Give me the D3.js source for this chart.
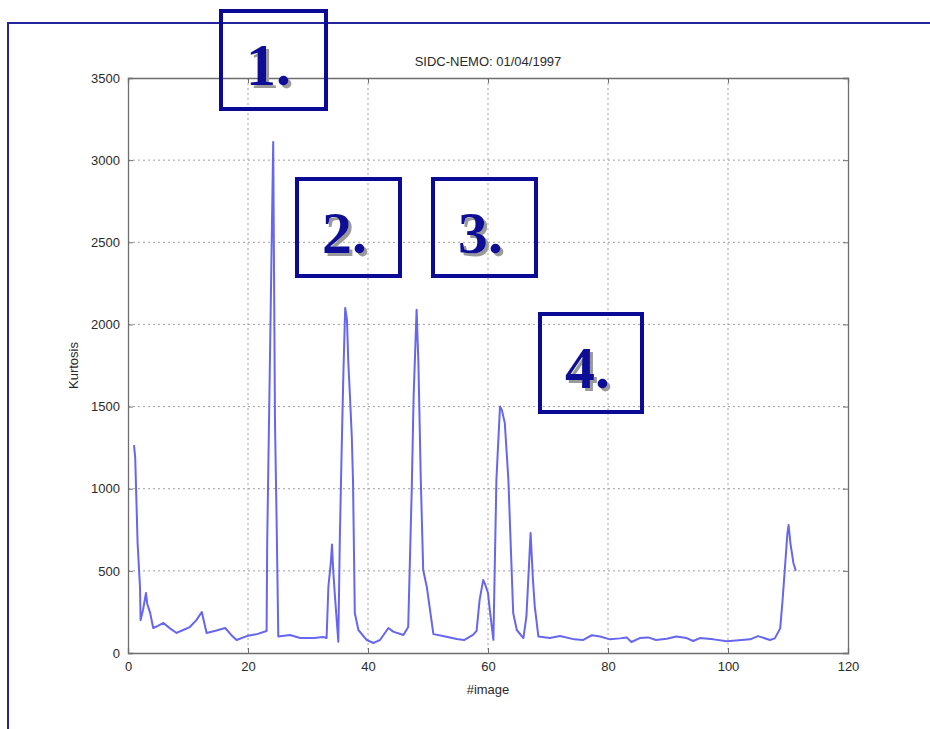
<!DOCTYPE html>
<html>
<head>
<meta charset="utf-8">
<script src="https://cdn.jsdelivr.net/npm/d3@7"></script>
<style>
  html, body { margin: 0; padding: 0; background: #fff; }
  svg { display: block; }
</style>
</head>
<body>
<svg id="chart" width="930" height="729"></svg>
<script>
// Kurtosis per image, SIDC-NEMO run of 01/04/1997
const imageIndex = [
  1.0, 1.2, 1.4, 1.6, 2.0, 2.1, 2.5, 3.0, 3.2, 3.7, 4.2, 5.0, 5.9, 7.0, 8.1, 9.2, 10.3, 11.4, 12.3, 13.1,
  14.6, 16.2, 17.2, 18.1, 19.8, 21.5, 23.1, 23.2, 24.2, 24.5, 24.8, 25.05, 27.0, 28.7, 31.0, 32.5, 33.1,
  33.4, 33.8, 34.0, 34.2, 34.5, 35.05, 35.3, 35.6, 35.9, 36.2, 36.5, 36.7, 37.0, 37.3, 37.5, 37.8, 38.4,
  39.8, 40.9, 41.4, 42.0, 43.4, 44.2, 45.9, 46.7, 47.3, 47.6, 48.1, 48.4, 48.8, 49.2, 49.8, 50.9, 52.5,
  54.8, 56.0, 57.5, 58.1, 58.6, 59.2, 59.5, 60.0, 60.3, 60.9, 61.4, 62.0, 62.3, 62.8, 63.4, 63.8, 64.2,
  64.8, 65.9, 66.4, 67.1, 67.5, 67.8, 68.4, 70.3, 72.0, 74.4, 75.8, 77.3, 78.7, 80.3, 82.0, 83.1, 83.9,
  85.3, 86.7, 88.0, 89.8, 91.4, 93.1, 94.2, 95.3, 97.6, 99.8, 101.8, 103.7, 105.0, 107.0, 107.8, 108.7,
  109.1, 109.5, 109.9, 110.1, 110.4, 110.9, 111.3
];
const kurtosis = [
  1265, 1190, 930, 670, 400, 200, 262, 365, 300, 243, 152, 165, 183, 150, 122, 140, 158, 200, 250, 122,
  135, 152, 110, 79, 103, 115, 134, 675, 3110, 1400, 730, 100, 110, 91, 91, 97, 91,
  404, 548, 660, 505, 341, 69, 688, 1217, 1704, 2100, 2027, 1783, 1558, 1315, 1053, 243, 140,
  79, 61, 69, 79, 152, 130, 110, 158, 1010, 1558, 2090, 1765, 1053, 505, 402, 115, 103,
  85, 79, 110, 135, 323, 444, 420, 365, 262, 80, 1053, 1500, 1480, 1400, 1053, 645, 243,
  140, 91, 221, 730, 440, 282, 100, 91, 103, 83, 79, 108, 100, 83, 89, 95, 67,
  91, 95, 79, 87, 100, 91, 73, 91, 83, 71, 78, 83, 103, 79, 89, 150,
  323, 525, 728, 779, 669, 548, 501
];

const xTicks = [0, 20, 40, 60, 80, 100, 120];
const yTicks = [0, 500, 1000, 1500, 2000, 2500, 3000, 3500];

const titleText = "SIDC-NEMO: 01/04/1997";
const xLabel = "#image";
const yLabel = "Kurtosis";

// Numbered call-out boxes drawn over the figure
const calloutLabels = ["1.", "2.", "3.", "4."];
const calloutBoxes = [
  { x: 221, y: 11, w: 105, h: 98 },
  { x: 297, y: 179, w: 103, h: 97 },
  { x: 433, y: 179, w: 103, h: 97 },
  { x: 540, y: 314, w: 102, h: 98 }
];

const svg = d3.select("#chart");
const plot = { left: 128, right: 848, top: 78, bottom: 653 };

const x = d3.scaleLinear().domain([0, 120]).range([plot.left, plot.right]);
const y = d3.scaleLinear().domain([0, 3500]).range([plot.bottom, plot.top]);

// Grey drop shadow for the call-out numbers
const defs = svg.append("defs");
const shadow = defs.append("filter").attr("id", "numShadow")
  .attr("x", "-20%").attr("y", "-20%").attr("width", "150%").attr("height", "150%");
shadow.append("feDropShadow")
  .attr("dx", 3).attr("dy", 3).attr("stdDeviation", 0.6)
  .attr("flood-color", "#9a9a9a").attr("flood-opacity", 1);

// Slide frame
svg.append("path")
  .attr("d", `M8,729 L8,23 L930,23`)
  .attr("fill", "none")
  .attr("stroke", "#2424a0")
  .attr("stroke-width", 2);

// Grid
const grid = svg.append("g").attr("stroke", "#a0a0a0").attr("stroke-width", 1)
  .attr("stroke-dasharray", "2,3");
grid.selectAll("line.v").data(xTicks.slice(1, -1)).join("line")
  .attr("x1", d => x(d)).attr("x2", d => x(d))
  .attr("y1", plot.top).attr("y2", plot.bottom);
grid.selectAll("line.h").data(yTicks.slice(1, -1)).join("line")
  .attr("x1", plot.left).attr("x2", plot.right)
  .attr("y1", d => y(d)).attr("y2", d => y(d));

// Axes box (ticks point inward)
const axisColor = "#6e6e6e";
const font = "'Liberation Sans', Arial, sans-serif";

const gx = svg.append("g").attr("transform", `translate(0,${plot.bottom})`)
  .call(d3.axisBottom(x).tickValues(xTicks).tickSize(-5).tickPadding(9).tickFormat(d3.format("d")));
const gxTop = svg.append("g").attr("transform", `translate(0,${plot.top})`)
  .call(d3.axisTop(x).tickValues(xTicks).tickSize(-5).tickFormat(""));
const gy = svg.append("g").attr("transform", `translate(${plot.left},0)`)
  .call(d3.axisLeft(y).tickValues(yTicks).tickSize(-5).tickPadding(8).tickFormat(d3.format("d")));
const gyRight = svg.append("g").attr("transform", `translate(${plot.right},0)`)
  .call(d3.axisRight(y).tickValues(yTicks).tickSize(-5).tickFormat(""));

[gx, gxTop, gy, gyRight].forEach(g => {
  g.selectAll("path.domain").attr("stroke", axisColor).attr("stroke-width", 1.3);
  g.selectAll(".tick line").attr("stroke", axisColor);
  g.selectAll("text").attr("fill", "#2a2a2a").style("font-family", font).style("font-size", "13px");
});

// Series
const line = d3.line().x((d, i) => x(imageIndex[i])).y(d => y(d));
svg.append("path")
  .datum(kurtosis)
  .attr("d", line)
  .attr("fill", "none")
  .attr("stroke", "#6666ee")
  .attr("stroke-width", 2)
  .attr("stroke-linejoin", "round");

// Titles
svg.append("text").attr("x", (plot.left + plot.right) / 2).attr("y", 66)
  .attr("text-anchor", "middle").attr("fill", "#2a2a2a")
  .style("font-family", font).style("font-size", "13px").text(titleText);
svg.append("text").attr("x", (plot.left + plot.right) / 2).attr("y", 694)
  .attr("text-anchor", "middle").attr("fill", "#2a2a2a")
  .style("font-family", font).style("font-size", "13px").text(xLabel);
svg.append("text").attr("transform", `translate(78,${(plot.top + plot.bottom) / 2}) rotate(-90)`)
  .attr("text-anchor", "middle").attr("fill", "#2a2a2a")
  .style("font-family", font).style("font-size", "13px").text(yLabel);

// Call-outs
const navy = "#0a0a96";
const co = svg.append("g");
calloutBoxes.forEach((b, i) => {
  co.append("rect").attr("x", b.x).attr("y", b.y).attr("width", b.w).attr("height", b.h)
    .attr("fill", "none").attr("stroke", navy).attr("stroke-width", 4);
  co.append("text").attr("x", b.x + 25).attr("y", b.y + 74)
    .attr("fill", navy)
    .attr("filter", "url(#numShadow)")
    .style("font-family", "'Liberation Serif', 'Times New Roman', serif")
    .style("font-weight", "bold").style("font-size", "60px").text(calloutLabels[i]);
});
</script>
</body>
</html>
